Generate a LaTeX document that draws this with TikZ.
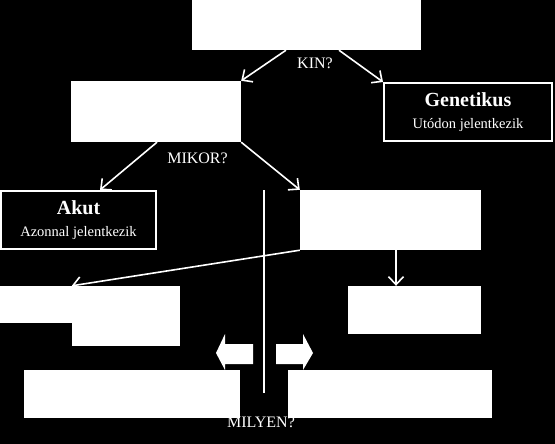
\documentclass[tikz,border=0pt]{standalone}
\usepackage{fontspec}
\setmainfont{Liberation Serif}
\usetikzlibrary{arrows.meta}
\begin{document}
\begin{tikzpicture}[x=1pt,y=-1pt,
  wbox/.style={fill=white,draw=none,inner sep=0pt,minimum width=#1},
  obox/.style={fill=black,draw=white,line width=1.6pt,inner sep=0pt},
  lbl/.style={text=white,font=\fontsize{16}{18}\selectfont,inner sep=0pt},
  ttl/.style={text=white,font=\fontsize{20}{22}\selectfont\bfseries,inner sep=0pt,anchor=base},
  sub/.style={text=white,font=\fontsize{14.5}{16}\selectfont,inner sep=0pt,anchor=base},
  conn/.style={draw=white,line width=1.6pt,-{Straight Barb[length=8pt,width=15pt,line width=1.6pt]}},
  plainline/.style={draw=white,line width=1.6pt}]
\useasboundingbox (0,0) rectangle (555,444);
\fill[black] (0,0) rectangle (555,444);
% boxes
\node[wbox=229pt,minimum height=50pt] (top) at (306.5,25) {};
\node[wbox=170pt,minimum height=61pt] (mid) at (156,111.5) {};
\node[obox,minimum width=168.4pt,minimum height=58.4pt] (gen) at (468,112) {};
\node[obox,minimum width=155.4pt,minimum height=58.4pt] (akut) at (78.5,220) {};
\node[wbox=181pt,minimum height=60pt] (rmid) at (390.5,220) {};
\fill[white] (0,286) rectangle (180,323);
\node[wbox=108pt,minimum height=60pt] (ll) at (126,316) {};
\node[wbox=133pt,minimum height=48pt] (lr) at (414.5,310) {};
\node[wbox=216pt,minimum height=48pt] (bl) at (132,394) {};
\node[wbox=204pt,minimum height=48pt] (br) at (390,394) {};
% texts
\node[ttl] (genT) at (468,106.7) {Genetikus};
\node[sub] (genS) at (468,128.3) {Utódon jelentkezik};
\node[ttl] (akutT) at (78.5,214.3) {Akut};
\node[sub] (akutS) at (78.5,236) {Azonnal jelentkezik};
\node[lbl] (kin) at (315,63) {KIN?};
\node[lbl] (mikor) at (197.5,158) {MIKOR?};
\node[lbl] (milyen) at (261,422) {MILYEN?};
% block arrows
\fill[white] (216,353) -- (225,334) -- (225,344) -- (253,344) -- (253,364) -- (225,364) -- (225,370) -- cycle;
\fill[white] (313,353) -- (303,334) -- (303,344) -- (276,344) -- (276,364) -- (303,364) -- (303,370) -- cycle;
% vertical divider
\coordinate (vtop) at (264,190);
\coordinate (vbot) at (264,393);
\draw[plainline] (vtop) -- (vbot);
% connectors
\draw[conn] ([xshift=-20.5pt]top.south) -- (mid.north east);
\draw[conn] ([xshift=32.5pt]top.south) -- (gen.north west);
\draw[conn] ([xshift=1pt]mid.south) -- ([xshift=21.5pt]akut.north);
\draw[conn] (mid.south east) -- (rmid.north west);
\draw[conn] (rmid.south west) -- (ll.north west);
\draw[conn] ([xshift=5.5pt]rmid.south) -- ([xshift=5.5pt]rmid.south |- lr.north);
\end{tikzpicture}
\end{document}
